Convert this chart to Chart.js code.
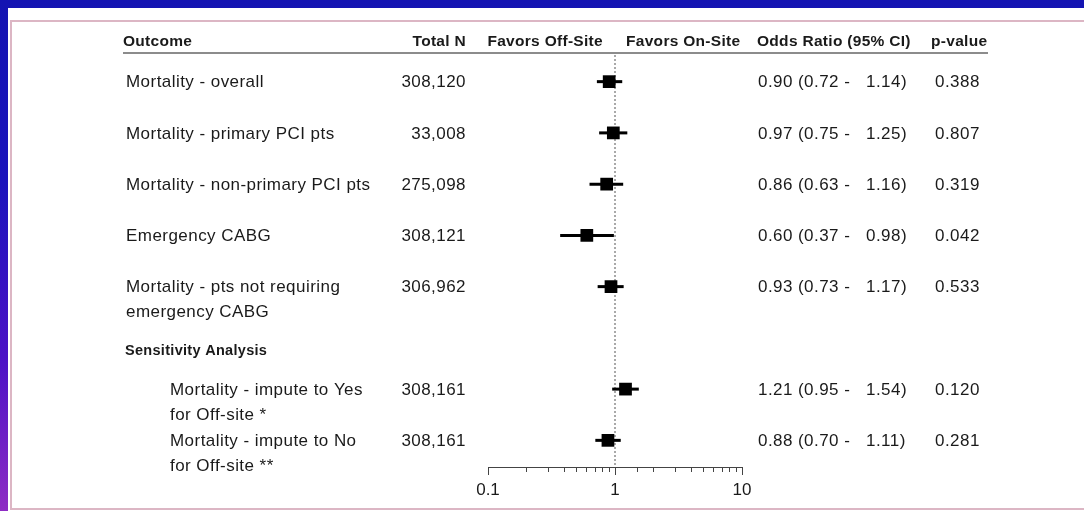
<!DOCTYPE html>
<html>
<head>
<meta charset="utf-8">
<script src="https://cdn.jsdelivr.net/npm/chart.js"></script>
<style>
  html, body { margin: 0; padding: 0; }
  body {
    width: 1084px; height: 511px; overflow: hidden; position: relative;
    background: linear-gradient(to bottom, #1414b2 0%, #1a14bc 35%, #4a12c6 70%, #8e2cc4 100%);
  }
  #panel { position: absolute; left: 8px; top: 8px; right: 0; bottom: 0; background: #fff; }
  #frame { position: absolute; left: 10px; top: 20px; right: -4px; bottom: 1px; border: 2px solid #dcb6c4; }
  #wrap { position: absolute; left: 0; top: 0; width: 1084px; height: 511px; }
</style>
</head>
<body>
<div id="panel"></div>
<div id="frame"></div>
<div id="wrap"><canvas id="chart" width="1084" height="511"></canvas></div>
<script>
const outcomes = [
  ['Mortality - overall'],
  ['Mortality - primary PCI pts'],
  ['Mortality - non-primary PCI pts'],
  ['Emergency CABG'],
  ['Mortality - pts not requiring', 'emergency CABG'],
  ['Mortality - impute to Yes', 'for Off-site *'],
  ['Mortality - impute to No', 'for Off-site **']
];
const totalN = ['308,120', '33,008', '275,098', '308,121', '306,962', '308,161', '308,161'];
const oddsRatio = [0.90, 0.97, 0.86, 0.60, 0.93, 1.21, 0.88];
const ciLow = [0.72, 0.75, 0.63, 0.37, 0.73, 0.95, 0.70];
const ciHigh = [1.14, 1.25, 1.16, 0.98, 1.17, 1.54, 1.11];
const pValues = ['0.388', '0.807', '0.319', '0.042', '0.533', '0.120', '0.281'];
const rowPos = [0, 1, 2, 3, 4, 6, 7];
const isSensitivity = [false, false, false, false, false, true, true];
const sectionLabel = 'Sensitivity Analysis';
const sectionPos = 5.25;
const headers = ['Outcome', 'Total N', 'Favors Off-Site', 'Favors On-Site', 'Odds Ratio (95% CI)', 'p-value'];
const xTickLabels = [0.1, 1, 10];

const FONT = "'Liberation Sans', Arial, sans-serif";

const tablePlugin = {
  id: 'tablePlugin',
  afterDraw(chart) {
    const { ctx, scales } = chart;
    const y = scales.y;
    const x = scales.x;
    ctx.save();
    ctx.fillStyle = '#1a1a1a';
    ctx.textBaseline = 'middle';

    // header row
    const hy = 42;
    ctx.font = 'bold 15.5px ' + FONT;
    ctx.letterSpacing = '0.3px';
    ctx.textAlign = 'left';
    ctx.fillText(headers[0], 123, hy);
    ctx.textAlign = 'right';
    ctx.fillText(headers[1], 466, hy);
    ctx.fillText(headers[2], 603, hy);
    ctx.textAlign = 'left';
    ctx.fillText(headers[3], 626, hy);
    ctx.fillText(headers[4], 757, hy);
    ctx.fillText(headers[5], 931, hy);

    ctx.strokeStyle = '#666';
    ctx.lineWidth = 1.5;
    ctx.beginPath();
    ctx.moveTo(123, 53);
    ctx.lineTo(988, 53);
    ctx.stroke();

    // section label
    ctx.font = 'bold 14.5px ' + FONT;
    ctx.letterSpacing = '0.3px';
    ctx.textAlign = 'left';
    ctx.fillText(sectionLabel, 125, y.getPixelForValue(sectionPos));

    // rows
    ctx.font = '17px ' + FONT;
    ctx.letterSpacing = '0.45px';
    outcomes.forEach((lines, i) => {
      const py = y.getPixelForValue(rowPos[i]) + 1;
      const lx = isSensitivity[i] ? 170 : 126;
      ctx.textAlign = 'left';
      lines.forEach((t, k) => ctx.fillText(t, lx, py + k * 25));
      ctx.textAlign = 'right';
      ctx.fillText(totalN[i], 466, py);
      ctx.textAlign = 'left';
      ctx.fillText(oddsRatio[i].toFixed(2), 758, py);
      ctx.fillText('(' + ciLow[i].toFixed(2) + ' -', 798, py);
      ctx.fillText(ciHigh[i].toFixed(2) + ')', 866, py);
      ctx.fillText(pValues[i], 935, py);
    });

    // longer marks at the labelled ticks
    ctx.strokeStyle = '#444';
    ctx.lineWidth = 1;
    xTickLabels.forEach(v => {
      const px = Math.round(x.getPixelForValue(v)) + 0.5;
      ctx.beginPath();
      ctx.moveTo(px, x.top);
      ctx.lineTo(px, x.top + 8);
      ctx.stroke();
    });
    ctx.restore();
  }
};

const ciSets = oddsRatio.map((v, i) => ({
  type: 'line',
  data: [{ x: ciLow[i], y: rowPos[i] }, { x: ciHigh[i], y: rowPos[i] }],
  borderColor: '#000',
  borderWidth: 3,
  pointRadius: 0,
  order: 2
}));

new Chart(document.getElementById('chart'), {
  type: 'scatter',
  data: {
    datasets: [
      {
        type: 'line',
        data: [{ x: 1, y: -0.52 }, { x: 1, y: 7.52 }],
        borderColor: '#555',
        borderWidth: 1,
        borderDash: [2, 2],
        pointRadius: 0,
        order: 3
      },
      ...ciSets,
      {
        data: oddsRatio.map((v, i) => ({ x: v, y: rowPos[i] })),
        pointStyle: 'rect',
        pointRadius: 9,
        backgroundColor: '#000',
        borderWidth: 0,
        order: 1
      }
    ]
  },
  options: {
    responsive: false,
    animation: false,
    events: [],
    layout: { padding: { left: 488, right: 342, top: 55, bottom: 0 } },
    plugins: { legend: { display: false }, tooltip: { enabled: false } },
    scales: {
      x: {
        type: 'logarithmic',
        min: 0.1,
        max: 10,
        afterFit(scale) { scale.height = 44; },
        border: { display: true, color: '#444', width: 1 },
        grid: { drawOnChartArea: false, drawTicks: true, tickLength: 5, color: '#444' },
        ticks: {
          autoSkip: false,
          maxRotation: 0,
          padding: 8,
          color: '#1a1a1a',
          font: { family: FONT, size: 17 },
          callback(value) {
            const hit = xTickLabels.find(t => Math.abs(t - value) < 1e-9);
            return hit === undefined ? '' : String(hit);
          }
        }
      },
      y: {
        type: 'linear',
        display: false,
        reverse: true,
        min: -0.52,
        max: 7.52
      }
    }
  },
  plugins: [tablePlugin]
});
</script>
</body>
</html>
